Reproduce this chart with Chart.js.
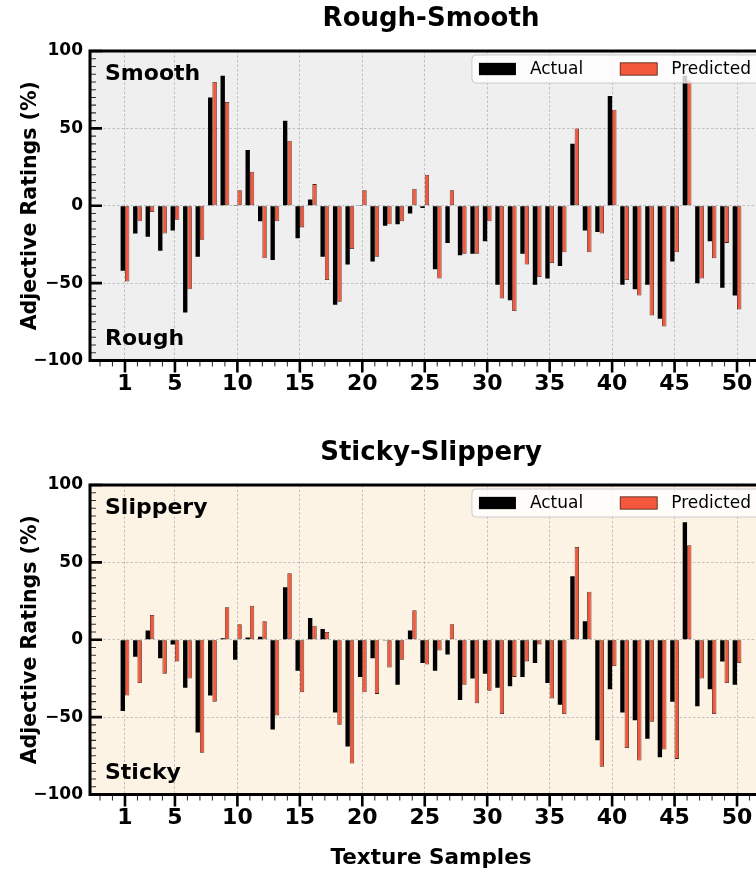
<!DOCTYPE html>
<html>
<head>
<meta charset="utf-8">
<script src="https://cdn.jsdelivr.net/npm/chart.js@4.4.1/dist/chart.umd.min.js"></script>
<style>
  html, body { margin: 0; padding: 0; background: #fff; width: 756px; height: 874px; overflow: hidden; }
  canvas { position: absolute; left: 0; }
  #rough { top: 0; }
  #sticky { top: 434px; }
</style>
</head>
<body>
<canvas id="rough" width="780" height="434"></canvas>
<canvas id="sticky" width="780" height="440"></canvas>
<script>
const samples = [1, 2, 3, 4, 5, 6, 7, 8, 9, 10, 11, 12, 13, 14, 15, 16, 17, 18, 19, 20,
  21, 22, 23, 24, 25, 26, 27, 28, 29, 30, 31, 32, 33, 34, 35, 36, 37, 38, 39, 40,
  41, 42, 43, 44, 45, 46, 47, 48, 49, 50];

const roughActual = [-42, -18, -20, -29, -16, -69, -33, 70, 84, 0.5, 36, -10, -35, 55, -21, 4, -33, -64, -38, 0.5,
  -36, -13, -12, -5, -1.5, -41, -24, -32, -31, -23, -51, -61, -31, -51, -47, -39, 40, -16, -17, 71,
  -51, -54, -51, -73, -36, 84, -50, -23, -53, -58];
const roughPredicted = [-49, -10, -4, -18, -9, -54, -22, 80, 67, 10, 22, -34, -10, 42, -14, 14, -48, -62, -28, 10,
  -33, -12, -10, 11, 20, -47, 10, -31, -31, -10, -60, -68, -38, -46, -37, -30, 50, -30, -18, 62,
  -48, -58, -71, -78, -30, 81, -47, -34, -24, -67];

const stickyActual = [-46, -11, 6, -12, -3, -31, -60, -36, 1, -13, 1.5, 2, -58, 34, -20, 14, 7, -47, -69, -24,
  -12, -0.5, -29, 6, -15, -20, -9.5, -39, -25, -22, -31, -30, -24, -15, -28, -42, 41, 12, -65, -32,
  -47, -52, -64, -76, -40, 76, -43, -32, -14, -29];
const stickyPredicted = [-36, -28, 16, -22, -14, -25, -73, -40, 21, 10, 22, 12, -49, 43, -34, 9, 5, -55, -80, -34,
  -35, -18, -13, 19, -16, -7, 10, -29, -41, -33, -48, -24, -14, -3, -38, -48, 60, 31, -82, -17,
  -70, -78, -53, -71, -77, 61, -25, -48, -28, -15];

const xTickLabels = [1, 5, 10, 15, 20, 25, 30, 35, 40, 45, 50];
const yTickValues = [-100, -50, 0, 50, 100];

const FONT = "'DejaVu Sans', sans-serif";
Chart.defaults.font.family = FONT;
Chart.defaults.color = '#000';

const ORANGE = '#f4583c';
const ORANGE_EDGE = '#4a1a0e';

// background, spines, tick marks, corner labels and boxed legend
const axesDecor = {
  id: 'axesDecor',
  beforeDraw(chart, args, opts) {
    const { ctx, chartArea: a } = chart;
    ctx.save();
    ctx.fillStyle = opts.background;
    ctx.fillRect(a.left, a.top, a.width, a.height);
    ctx.restore();
  },
  afterDatasetsDraw(chart, args, opts) {
    const { ctx, chartArea: a, scales: { x, y } } = chart;
    ctx.save();

    // minor ticks: every sample on x, every 5 % on y
    ctx.strokeStyle = '#333';
    ctx.lineWidth = 1.1;
    ctx.beginPath();
    for (let v = Math.ceil(x.min); v <= x.max; v++) {
      const px = x.getPixelForValue(v);
      ctx.moveTo(px, a.bottom);
      ctx.lineTo(px, a.bottom + 6);
    }
    for (let v = -100; v <= 100; v += 5) {
      const py = y.getPixelForValue(v);
      ctx.moveTo(a.left, py);
      ctx.lineTo(a.left + 6, py);
    }
    ctx.stroke();

    // major ticks
    ctx.strokeStyle = '#000';
    ctx.lineWidth = 2.6;
    ctx.beginPath();
    xTickLabels.forEach(v => {
      const px = x.getPixelForValue(v);
      ctx.moveTo(px, a.bottom);
      ctx.lineTo(px, a.bottom + 12);
    });
    yTickValues.forEach(v => {
      const py = y.getPixelForValue(v);
      ctx.moveTo(a.left, py);
      ctx.lineTo(a.left + 12, py);
    });
    ctx.stroke();

    // spines
    ctx.lineWidth = 3;
    ctx.strokeRect(a.left, a.top, a.width, a.height);

    // corner labels
    ctx.font = 'bold 22px ' + FONT;
    ctx.fillStyle = '#000';
    ctx.textAlign = 'left';
    ctx.textBaseline = 'alphabetic';
    ctx.fillText(opts.upper, a.left + 15, a.top + 28.5);
    ctx.fillText(opts.lower, a.left + 15, a.bottom - 15.5);

    // legend
    const ds = chart.data.datasets;
    ctx.font = '17px ' + FONT;
    const sw = 37, sh = 12.3, gap = 14, col = 37, pad = 7;
    const widths = ds.map(d => ctx.measureText(d.label).width);
    const total = pad + ds.length * (sw + gap) + widths.reduce((s, w) => s + w, 0) + col * (ds.length - 1) + 9;
    const bx = a.right - 12 - total, by = a.top + 4, bh = 28;
    ctx.beginPath();
    ctx.roundRect(bx, by, total, bh, 4);
    ctx.fillStyle = 'rgba(255,255,255,0.8)';
    ctx.fill();
    ctx.lineWidth = 1;
    ctx.strokeStyle = '#cccccc';
    ctx.stroke();
    let cx = bx + pad;
    const cy = by + bh / 2;
    ds.forEach((d, i) => {
      ctx.fillStyle = d.backgroundColor;
      ctx.fillRect(cx, cy - sh / 2, sw, sh);
      if (d.borderWidth) {
        ctx.strokeStyle = d.borderColor;
        ctx.lineWidth = 0.8;
        ctx.strokeRect(cx, cy - sh / 2, sw, sh);
      }
      cx += sw + gap;
      ctx.fillStyle = '#000';
      ctx.textBaseline = 'middle';
      ctx.fillText(d.label, cx, cy + 1);
      cx += widths[i] + col;
    });
    ctx.restore();
  }
};

function buildChart(id, title, actual, predicted, bg, upper, lower, showXTitle, height) {
  const toPoints = vals => samples.map((s, i) => ({ x: s, y: vals[i] }));
  return new Chart(document.getElementById(id), {
    type: 'bar',
    data: {
      datasets: [
        { label: 'Actual', data: toPoints(actual), backgroundColor: '#000', borderWidth: 0 },
        { label: 'Predicted', data: toPoints(predicted), backgroundColor: ORANGE,
          borderColor: ORANGE_EDGE, borderWidth: 0.8, borderSkipped: false }
      ]
    },
    options: {
      responsive: false,
      animation: false,
      categoryPercentage: 0.7,
      barPercentage: 1,
      layout: { padding: { left: 0, right: 8, top: 0, bottom: 0 } },
      plugins: {
        legend: { display: false },
        tooltip: { enabled: false },
        title: {
          display: true, text: title, fullSize: false, color: '#000',
          font: { size: 26, weight: 'bold' },
          padding: { top: 3.4, bottom: 16.4 }
        },
        axesDecor: { background: bg, upper, lower }
      },
      scales: {
        x: {
          type: 'linear', min: -1.8, max: 52.8, offset: false,
          afterBuildTicks: s => { s.ticks = xTickLabels.map(v => ({ value: v })); },
          afterFit: s => { s.height = height - 360.5; },
          grid: { offset: false, color: '#b4b4b4', lineWidth: 0.8, drawTicks: false },
          border: { display: false, dash: [2.5, 2] },
          ticks: { padding: 10.5, maxRotation: 0, autoSkip: false,
            font: { size: 22, weight: 'bold' }, color: '#000' },
          title: { display: showXTitle, text: 'Texture Samples', color: '#000',
            font: { size: 21.5, weight: 'bold' }, padding: { top: 0, bottom: 2.5 } }
        },
        y: {
          min: -100, max: 100,
          afterBuildTicks: s => { s.ticks = yTickValues.map(v => ({ value: v })); },
          afterFit: s => { s.width = 90; },
          grid: { color: '#b4b4b4', lineWidth: 0.8, drawTicks: false },
          border: { display: false, dash: [2.5, 2] },
          ticks: { padding: 7, font: { size: 17, weight: 'bold' }, color: '#000',
            callback: v => (v < 0 ? '\u2212' + Math.abs(v) : String(v)) },
          title: { display: true, text: 'Adjective Ratings (%)', color: '#000',
            font: { size: 20.5, weight: 'bold' }, padding: { top: 18.7, bottom: 0 } }
        }
      }
    },
    plugins: [axesDecor]
  });
}

buildChart('rough', 'Rough-Smooth', roughActual, roughPredicted, '#efefef', 'Smooth', 'Rough', false, 434);
buildChart('sticky', 'Sticky-Slippery', stickyActual, stickyPredicted, '#fcf3e5', 'Slippery', 'Sticky', true, 440);
</script>
</body>
</html>
